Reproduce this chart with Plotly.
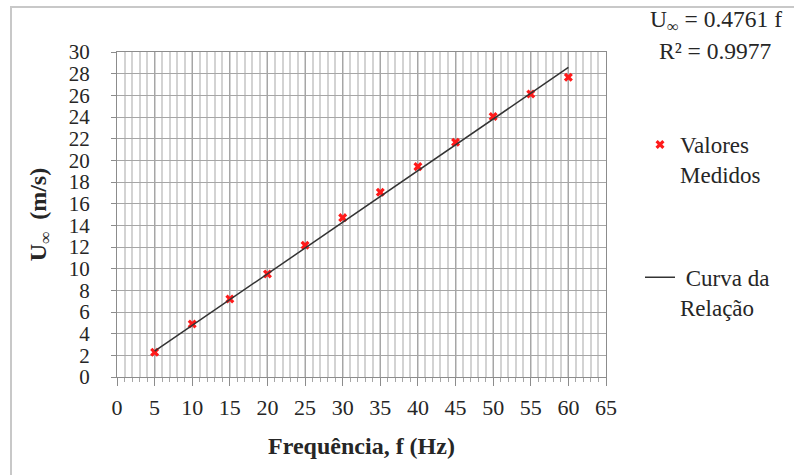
import plotly.graph_objects as go

# Data
freq = [5, 10, 15, 20, 25, 30, 35, 40, 45, 50, 55, 60]
u_measured = [2.28, 4.89, 7.2, 9.51, 12.16, 14.71, 17.05, 19.42, 21.67, 24.04, 26.13, 27.67]
fit_x = [5, 60]
fit_y = [2.38, 28.57]
x_ticks = list(range(0, 70, 5))
y_ticks = list(range(0, 32, 2))

W, H = 794, 475
L, R, T, B = 117, 188, 52, 98
pw, ph = W - L - R, H - T - B

def px(x):
    return (x - L) / pw

def py(y):
    return (H - B - y) / ph

SERIF = "Liberation Serif"

fig = go.Figure()
fig.add_trace(go.Scatter(
    x=freq, y=u_measured, mode="markers", name="Valores<br>Medidos",
    legendgroup="a",
    marker=dict(symbol="x", size=8, color="#ff1a1a", line=dict(width=0)),
))
fig.add_trace(go.Scatter(
    x=fit_x, y=fit_y, mode="lines", name=" Curva da<br>Relação",
    legendgroup="b",
    line=dict(color="#333333", width=1.5),
))

fig.update_layout(
    width=W, height=H,
    margin=dict(l=L, r=R, t=T, b=B),
    paper_bgcolor="white", plot_bgcolor="white",
    font=dict(family=SERIF, size=22, color="#262626"),
    showlegend=True,
    legend=dict(
        x=px(640), y=py(123), xanchor="left", yanchor="top",
        valign="top", tracegroupgap=70,
        font=dict(family=SERIF, size=23, color="#262626"),
        bgcolor="rgba(0,0,0,0)",
    ),
    xaxis=dict(
        range=[0, 65], tickvals=x_ticks, ticks="outside", ticklen=8,
        tickcolor="#8c8c8c", tickwidth=1,
        showline=True, linecolor="#8c8c8c", linewidth=1, mirror=True,
        showgrid=True, gridcolor="#a6a6a6", gridwidth=1,
        zeroline=False,
        minor=dict(dtick=1, ticks="outside", ticklen=4, tickcolor="#a6a6a6",
                   showgrid=True, gridcolor="#d3d3d3", gridwidth=1.5),
        ticklabelstandoff=3,
        tickfont=dict(family=SERIF, size=22),
        title=dict(text="<b>Frequência, f (Hz)</b>", font=dict(family=SERIF, size=24), standoff=17),
    ),
    yaxis=dict(
        range=[0, 30], tickvals=y_ticks, ticks="outside", ticklen=5,
        tickcolor="#8c8c8c", tickwidth=1,
        showline=True, linecolor="#8c8c8c", linewidth=1, mirror=True,
        showgrid=True, gridcolor="#a6a6a6", gridwidth=1,
        zeroline=False,
        ticklabelstandoff=17,
        tickfont=dict(family=SERIF, size=21),
        title=dict(text="<b>U<sub>∞</sub>  (m/s)</b>", font=dict(family=SERIF, size=24), standoff=15),
    ),
    shapes=[
        dict(type="rect", xref="paper", yref="paper",
             x0=px(11), x1=px(W + 20), y0=py(H + 20), y1=py(7),
             line=dict(color="#c8c8c8", width=2), fillcolor="rgba(0,0,0,0)", layer="below"),
    ],
    annotations=[
        dict(text="U<sub>∞</sub> = 0.4761 f", xref="paper", yref="paper",
             x=px(716), y=py(21), showarrow=False, xanchor="center", yanchor="middle",
             font=dict(family=SERIF, size=23.5, color="#262626")),
        dict(text="R² = 0.9977", xref="paper", yref="paper",
             x=px(715), y=py(51), showarrow=False, xanchor="center", yanchor="middle",
             font=dict(family=SERIF, size=23.5, color="#262626")),
    ],
)

fig.write_html("out.html")
